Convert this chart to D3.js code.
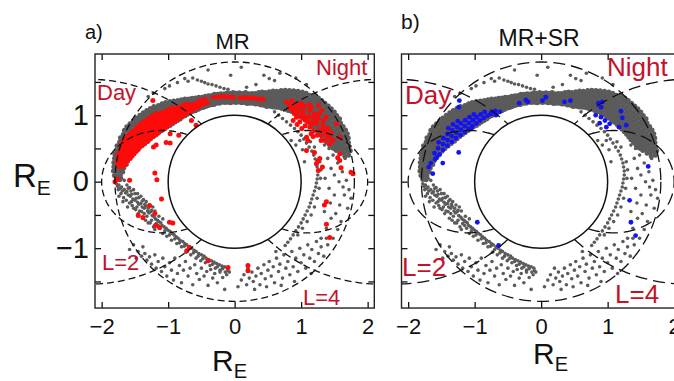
<!DOCTYPE html>
<html>
<head>
<meta charset="utf-8">
<script src="https://cdn.jsdelivr.net/npm/d3@7"></script>
<style>
  body { margin: 0; background: #fff; }
  svg { display: block; }
  text { font-family: "Liberation Sans", Arial, sans-serif; }
</style>
</head>
<body>
<svg id="chart" width="674" height="381"></svg>
<script>
// ---------------- data (distances in Earth radii) ----------------
const xTickValues = [-2, -1, 0, 1, 2];
const yTickValues = [-1.5, -1, -0.5, 0, 0.5, 1, 1.5];
const yTickLabels = [-1, 0, 1];
const lShellValues = [2, 4];          // dipole field lines drawn on both sides
const shellCircleRadius = 1.8;        // dashed reference circle
const earthRadius = 1;

// Dense part of the orbit coverage: [angle from +X in degrees, radial distances]
const grayBandRows = [
  [179,[1.73,1.78]],[177,[1.72,1.77,1.81]],[175,[1.69,1.74,1.79,1.83]],[173,[1.68,1.73,1.78,1.83]],
  [171,[1.65,1.70,1.75,1.80,1.84]],[169,[1.64,1.69,1.74,1.79,1.84]],[167,[1.61,1.66,1.71,1.76,1.81,1.85]],
  [165,[1.59,1.64,1.69,1.74,1.79,1.84]],[163,[1.56,1.61,1.66,1.71,1.76,1.81,1.85]],
  [161,[1.53,1.58,1.63,1.68,1.73,1.78,1.83]],[159,[1.50,1.55,1.60,1.65,1.70,1.75,1.80,1.84]],
  [157,[1.47,1.52,1.57,1.62,1.67,1.72,1.77,1.82]],[155,[1.44,1.49,1.54,1.59,1.64,1.69,1.74,1.79,1.83]],
  [153,[1.42,1.47,1.52,1.57,1.62,1.67,1.72,1.77,1.82]],[151,[1.40,1.45,1.50,1.55,1.60,1.65,1.70,1.75,1.80]],
  [149,[1.38,1.43,1.48,1.53,1.58,1.63,1.68,1.73,1.78]],[147,[1.36,1.41,1.46,1.51,1.56,1.61,1.66,1.71,1.76]],
  [145,[1.34,1.39,1.44,1.49,1.54,1.59,1.64,1.69,1.74]],[143,[1.32,1.37,1.42,1.47,1.52,1.57,1.62,1.67,1.72]],
  [141,[1.31,1.36,1.41,1.46,1.51,1.56,1.61,1.66,1.70]],[139,[1.29,1.34,1.39,1.44,1.49,1.54,1.59,1.64,1.68]],
  [137,[1.28,1.33,1.38,1.43,1.48,1.53,1.58,1.63,1.66]],[135,[1.27,1.32,1.37,1.42,1.47,1.52,1.57,1.62]],
  [133,[1.26,1.31,1.36,1.41,1.46,1.51,1.56,1.60]],[131,[1.25,1.30,1.35,1.40,1.45,1.50,1.55,1.58]],
  [129,[1.25,1.30,1.35,1.40,1.45,1.50,1.55]],[127,[1.24,1.29,1.34,1.39,1.44,1.49,1.52]],
  [125,[1.24,1.29,1.34,1.39,1.44,1.49]],[123,[1.23,1.28,1.33,1.38,1.43,1.47]],
  [121,[1.23,1.28,1.33,1.38,1.43,1.45]],[119,[1.22,1.27,1.32,1.37,1.42]],[117,[1.22,1.27,1.32,1.37,1.41]],
  [115,[1.22,1.27,1.32,1.37,1.39]],[113,[1.21,1.26,1.31,1.35,1.38]],[111,[1.21,1.26,1.31,1.36]],
  [109,[1.21,1.26,1.31,1.36]],[107,[1.21,1.26,1.31,1.35]],[105,[1.20,1.24,1.29,1.34]],
  [103,[1.21,1.26,1.31,1.35]],[101,[1.20,1.24,1.29,1.34]],[99,[1.21,1.26,1.31,1.34]],
  [97,[1.20,1.24,1.29,1.33]],[95,[1.20,1.25,1.30,1.34]],[93,[1.19,1.23,1.28,1.33]],
  [91,[1.20,1.25,1.30,1.34]],[89,[1.19,1.23,1.28,1.33]],[87,[1.20,1.25,1.30,1.34]],
  [85,[1.19,1.23,1.28,1.33]],[83,[1.20,1.25,1.30,1.35]],[81,[1.19,1.24,1.29,1.34]],
  [79,[1.20,1.25,1.30,1.35]],[77,[1.21,1.26,1.31,1.36]],[75,[1.21,1.26,1.31,1.36,1.39]],
  [73,[1.22,1.27,1.32,1.37,1.41]],[71,[1.22,1.27,1.32,1.37,1.42]],[69,[1.23,1.28,1.33,1.38,1.43,1.45]],
  [67,[1.23,1.28,1.33,1.38,1.43,1.48]],[65,[1.25,1.30,1.35,1.40,1.45,1.50]],
  [63,[1.26,1.31,1.36,1.41,1.46,1.51,1.54]],[61,[1.28,1.33,1.38,1.43,1.48,1.53,1.57]],
  [59,[1.30,1.35,1.40,1.45,1.50,1.55,1.60]],[57,[1.31,1.36,1.41,1.46,1.51,1.56,1.61,1.63]],
  [55,[1.33,1.38,1.43,1.48,1.53,1.58,1.63,1.66]],[53,[1.34,1.39,1.44,1.49,1.54,1.59,1.64,1.69]],
  [51,[1.36,1.41,1.46,1.51,1.56,1.61,1.66,1.71]],[49,[1.37,1.42,1.47,1.52,1.57,1.62,1.67,1.72]],
  [47,[1.38,1.43,1.48,1.53,1.58,1.63,1.68,1.73,1.76]],[45,[1.39,1.44,1.49,1.54,1.59,1.64,1.69,1.74,1.78]],
  [43,[1.40,1.45,1.50,1.55,1.60,1.65,1.70,1.75,1.79]],[41,[1.41,1.46,1.51,1.56,1.61,1.66,1.71,1.76,1.80]],
  [39,[1.42,1.47,1.52,1.57,1.62,1.67,1.72,1.77,1.81]],[37,[1.43,1.48,1.53,1.58,1.63,1.68,1.73,1.78,1.82]],
  [35,[1.44,1.49,1.54,1.59,1.64,1.69,1.74,1.79,1.83]],[33,[1.45,1.50,1.55,1.60,1.65,1.70,1.75,1.80,1.83]],
  [31,[1.46,1.51,1.56,1.61,1.66,1.71,1.76,1.81,1.84]],[29,[1.47,1.52,1.57,1.62,1.67,1.72,1.77,1.82]],
  [27,[1.48,1.53,1.58,1.63,1.68,1.73,1.78,1.83]],[25,[1.49,1.54,1.59,1.64,1.69,1.74,1.79,1.84]],
  [23,[1.51,1.56,1.61,1.66,1.71,1.76,1.81,1.84]],[21,[1.53,1.58,1.63,1.68,1.73,1.78,1.83]],
  [19,[1.56,1.61,1.66,1.71,1.76,1.81]],[17,[1.60,1.65,1.70,1.75,1.80]],[15,[1.65,1.70,1.75,1.80]],
  [13,[1.70,1.76]]
];

// Sparse coverage, [X, Y]
const graySparse = [
  [-1.30,1.28],[-1.22,1.33],[-1.05,1.40],[-0.98,1.44],[-0.86,1.49],[-0.75,1.55],[-0.70,1.51],[-0.63,1.56],
  [-0.56,1.53],[-0.50,1.51],[-0.45,1.49],[-0.40,1.47],[-0.34,1.46],[-0.28,1.44],[-0.22,1.42],[-0.16,1.40],
  [-0.10,1.39],[-0.06,1.60],[0.18,1.42],[0.32,1.46],[0.44,1.60],[0.52,1.55],[0.60,1.52],[0.68,1.63],
  [0.92,1.56],[1.08,1.46],[-0.40,1.68],[0.10,1.72],
  [-1.78,-0.03],[-1.76,-0.07],[-1.74,-0.05],[-1.72,-0.10],[-1.70,-0.08],[-1.69,-0.14],[-1.66,-0.12],
  [-1.64,-0.17],[-1.62,-0.15],[-1.60,-0.20],[-1.57,-0.22],[-1.55,-0.19],[-1.53,-0.26],[-1.50,-0.28],
  [-1.48,-0.25],[-1.46,-0.31],[-1.44,-0.34],[-1.41,-0.33],[-1.39,-0.38],[-1.36,-0.40],[-1.34,-0.37],
  [-1.31,-0.44],[-1.29,-0.47],[-1.26,-0.45],[-1.24,-0.51],[-1.21,-0.53],[-1.19,-0.56],[-1.16,-0.58],
  [-1.14,-0.60],[-1.11,-0.62],[-1.09,-0.66],[-1.06,-0.68],[-1.03,-0.70],[-1.00,-0.73],[-0.97,-0.75],
  [-0.94,-0.78],[-0.91,-0.80],[-0.88,-0.83],[-0.85,-0.85],[-0.82,-0.88],[-0.78,-0.90],[-0.75,-0.93],
  [-0.72,-0.95],[-0.68,-0.98],[-0.65,-1.00],[-0.61,-1.03],[-0.58,-1.05],[-0.54,-1.08],[-0.50,-1.10],
  [-0.46,-1.12],[-0.43,-1.15],[-0.39,-1.17],[-0.35,-1.19],[-0.31,-1.21],[-0.27,-1.23],[-0.23,-1.25],
  [-0.19,-1.27],[-0.15,-1.28],[-0.11,-1.30],
  [-1.55,-0.30],[-1.47,-0.38],[-1.40,-0.45],[-1.32,-0.52],[-1.25,-0.58],[-1.18,-0.63],[-1.12,-0.70],
  [-1.05,-0.74],[-0.98,-0.80],[-0.90,-0.86],[-0.83,-0.92],[-0.76,-0.97],[-0.70,-1.02],[-0.62,-1.07],
  [-0.55,-1.12],[-0.48,-1.16],[-0.40,-1.20],[-0.33,-1.24],[-0.26,-1.28],[-0.18,-1.31],[-0.10,-1.34],
  [-1.62,-0.05],[-1.58,-0.09],[-1.52,-0.12],[-1.46,-0.18],[-1.41,-0.22],[-1.37,-0.27],[-1.33,-0.30],
  [-1.28,-0.35],[-1.23,-0.38],[-1.52,-0.40],[-1.45,-0.48],[-1.38,-0.55],[-1.30,-0.62],[-1.22,-0.68],
  [-1.74,-0.22],[-1.68,-0.30],[-1.61,-0.38],[-1.70,0.05],[-1.66,0.02],
  [-1.75,-0.12],[-1.71,-0.18],[-1.67,-0.24],[-1.63,-0.28],[-1.58,-0.32],[-1.54,-0.36],[-1.49,-0.42],
  [-1.43,-0.44],[-1.36,-0.48],[-1.34,-0.58],[-1.27,-0.62],[-1.20,-0.72],[-1.15,-0.66],[-1.08,-0.78],
  [-1.02,-0.82],[-0.95,-0.88],[-0.87,-0.93],[-0.80,-0.98],[-0.73,-1.06],[-0.66,-1.10],[-0.58,-1.15],
  [-0.51,-1.19],[-0.44,-1.22],[-0.37,-1.26],[-0.29,-1.30],[-0.22,-1.33],[-0.14,-1.36],[-1.60,-0.10],
  [-1.56,-0.14],[-1.50,-0.18],[-1.44,-0.24],[-1.39,-0.29],[-1.35,-0.34],[-1.30,-0.40],[-1.25,-0.43],
  [-1.20,-0.44],[-1.14,-0.52],[-1.08,-0.56],
  [-1.45,-1.05],[-1.40,-1.12],[-1.35,-1.08],[-1.32,-1.18],[-1.28,-1.13],[-1.25,-1.24],[-1.20,-1.10],
  [-1.18,-1.30],[-1.15,-1.20],[-1.10,-1.35],[-1.08,-1.15],[-1.05,-1.28],[-1.02,-1.42],[-0.98,-1.22],
  [-0.95,-1.33],[-0.92,-1.48],[-0.90,-1.15],[-0.86,-1.38],[-0.83,-1.26],[-0.80,-1.52],[-0.77,-1.33],
  [-0.74,-1.20],[-0.70,-1.42],[-0.67,-1.30],[-0.63,-1.55],[-0.60,-1.25],[-0.57,-1.38],[-0.53,-1.47],
  [-0.50,-1.30],[-0.46,-1.42],[-0.42,-1.35],[-0.40,-1.56],[-0.36,-1.32],[-0.33,-1.45],[-0.30,-1.38],
  [-0.26,-1.52],[-0.22,-1.36],[-0.18,-1.44],[-0.15,-1.62],[-0.12,-1.40],[-0.08,-1.36],[-1.52,-0.95],
  [-1.48,-1.15],[-1.58,-1.02],[-1.38,-0.98],
  [0.10,-1.48],[0.14,-1.40],[0.18,-1.55],[0.22,-1.45],[0.26,-1.36],[0.28,-1.50],[0.32,-1.42],[0.35,-1.30],
  [0.38,-1.55],[0.40,-1.38],[0.44,-1.25],[0.46,-1.46],[0.50,-1.33],[0.52,-1.20],[0.55,-1.42],[0.58,-1.28],
  [0.60,-1.52],[0.63,-1.15],[0.66,-1.35],[0.68,-1.24],[0.72,-1.45],[0.74,-1.10],[0.77,-1.30],[0.80,-1.20],
  [0.83,-1.40],[0.86,-1.05],[0.88,-1.28],[0.92,-1.15],[0.95,-1.35],[0.98,-1.00],[1.00,-1.22],[1.04,-1.10],
  [1.07,-1.30],[1.10,-0.95],[1.13,-1.15],[1.16,-1.02],[1.20,-1.20],[1.23,-0.90],[1.26,-1.08],[1.30,-0.98],
  [1.34,-1.12],[1.38,-0.85],[0.20,-1.30],[0.05,-1.58],[0.30,-1.62],[0.48,-1.58],[0.70,-1.56],[0.90,-1.50],
  [1.15,-1.38],[0.62,-1.05],
  [0.60,1.05],[0.66,1.00],[0.72,0.95],[0.78,0.90],[0.84,0.85],[0.90,0.80],[0.95,0.75],[1.00,0.70],
  [1.04,0.64],[1.08,0.58],[1.12,0.52],[1.16,0.46],[1.19,0.40],[1.21,0.34],[1.23,0.28],[1.24,0.22],
  [1.25,0.16],[1.25,0.10],[1.24,0.04],[1.23,-0.02],[1.22,-0.08],[1.20,-0.14],[1.18,-0.20],[1.16,-0.26],
  [1.14,-0.32],[1.12,-0.38],[1.09,-0.44],[1.06,-0.50],[1.03,-0.56],[1.00,-0.62],[0.96,-0.68],[0.92,-0.74],
  [0.88,-0.80],[0.84,-0.86],[0.80,-0.91],[0.76,-0.96],
  [1.28,0.30],[1.30,0.18],[1.29,0.05],[1.27,-0.10],[1.24,-0.25],[1.20,-0.38],[1.15,-0.50],[1.09,-0.60],
  [1.02,-0.70],[0.95,-0.80],[1.14,0.60],[1.20,0.52],[0.98,0.62],
  [1.40,0.35],[1.45,0.20],[1.50,0.10],[1.55,0.28],[1.62,0.15],[1.68,0.02],[1.72,-0.12],[1.65,-0.20],
  [1.58,-0.35],[1.52,-0.48],[1.45,-0.55],[1.60,-0.60],[1.55,-0.72],[1.48,-0.85],[1.40,-0.95],[1.35,-0.45],
  [1.42,-0.10],[1.36,0.05],[1.70,-0.40],[1.75,-0.25],[1.63,-0.08],[1.50,-0.20],[1.38,-0.70],[1.30,-0.85],
  [1.57,0.00],[1.48,0.40],[1.66,0.35],[1.44,-0.32],
  [0.85,0.62],[0.92,0.55],[1.02,0.48],[0.88,0.42],[1.05,0.30],[0.95,0.20],[1.35,0.55],[1.42,0.50],[1.50,0.48]
];

// MR events (panel a)
const redBandRows = [
  [172,[1.69,1.76]],[170.5,[1.66,1.73,1.79]],[169,[1.64,1.71,1.78]],[167.5,[1.61,1.68,1.75,1.80]],
  [166,[1.59,1.66,1.73,1.79]],[164.5,[1.57,1.64,1.71,1.78]],[163,[1.55,1.62,1.69,1.76]],
  [161.5,[1.53,1.60,1.67,1.74,1.79]],[160,[1.52,1.59,1.66,1.73,1.78]],[158.5,[1.49,1.56,1.63,1.70,1.76]],
  [157,[1.47,1.54,1.61,1.68,1.75]],[155.5,[1.45,1.52,1.59,1.66,1.73]],[154,[1.44,1.51,1.58,1.65,1.71]],
  [152.5,[1.42,1.49,1.56,1.63,1.69]],[151,[1.40,1.47,1.54,1.61,1.68]],[149.5,[1.38,1.45,1.52,1.59,1.66]],
  [148,[1.37,1.44,1.51,1.58,1.65]],[146.5,[1.36,1.43,1.50,1.57,1.63]],[145,[1.35,1.42,1.49,1.56,1.62]],
  [143.5,[1.33,1.40,1.47,1.54,1.60]],[142,[1.32,1.39,1.46,1.53,1.59]],[140.5,[1.31,1.38,1.45,1.52,1.57]],
  [139,[1.31,1.38,1.45,1.52,1.56]],[137.5,[1.30,1.37,1.44,1.51]],[136,[1.29,1.36,1.43,1.50]],
  [134.5,[1.28,1.35,1.42,1.48]],[133,[1.28,1.35,1.42,1.47]],[131.5,[1.27,1.34,1.41,1.46]],
  [130,[1.27,1.34,1.41,1.45]],[128.5,[1.26,1.33,1.40]],[127,[1.26,1.33,1.40]],[125.5,[1.26,1.32,1.38]],
  [124,[1.26,1.32,1.38]],[122.5,[1.25,1.31,1.37]],[121,[1.25,1.31,1.36]],[119.5,[1.26,1.32]],
  [118,[1.26,1.32]],[116.5,[1.25,1.31]],[115,[1.25,1.31]],[113,[1.27]],[111,[1.26]],[109,[1.26]]
];
const redSparse = [
  [-0.32,1.27],[-0.26,1.27],[-0.20,1.28],[-0.14,1.28],[-0.08,1.27],[-0.02,1.27],[0.08,1.26],[0.14,1.27],
  [0.20,1.26],[0.26,1.26],[0.32,1.25],[0.38,1.24],[0.43,1.24],[-0.45,1.24],[-0.52,1.22],
  [0.78,1.20],[0.83,1.15],[0.93,1.17],[0.98,1.12],[0.88,1.07],[1.03,1.05],[1.13,1.07],[1.08,0.97],
  [0.93,0.97],[0.98,0.90],[1.18,0.97],[1.23,0.87],[1.13,0.82],[1.28,0.78],[1.38,0.72],[1.43,0.67],
  [1.36,0.62],[1.43,0.57],[1.31,1.07],[1.38,0.97],[1.26,1.15],[0.88,0.92],[1.01,0.80],[1.08,0.67],
  [1.53,0.87],[1.58,0.67],[0.86,1.22],[0.95,1.05],[1.05,1.13],[1.10,0.90],[1.18,0.76],[1.25,0.95],
  [1.33,0.85],[1.20,1.02],[1.00,0.98],[0.90,1.12],[1.15,1.12],[1.30,0.70],[1.40,0.80],[1.48,0.62],
  [0.84,1.10],[0.90,1.02],[0.96,1.15],[1.02,1.00],[1.06,0.93],[1.12,0.98],[1.16,0.88],[1.22,0.92],
  [1.27,1.02],[1.33,0.92],[1.35,0.78],[1.24,0.70],[1.30,0.62],[1.40,0.68],[1.45,0.74],[1.12,1.16],
  [1.00,1.18],[0.94,0.86],[1.06,0.84],[1.15,0.72],
  [1.10,0.62],[1.08,0.47],[1.18,0.68],[1.20,0.44],[1.25,0.31],[1.32,0.22],[1.23,0.27],[1.28,0.35],
  [1.26,0.17],[1.55,0.36],[1.58,0.42],[1.58,0.32],[1.60,0.21],[1.75,0.14],[1.78,0.12],[1.38,-0.30],
  [1.35,-0.35],[1.38,-0.64],[1.43,-0.84],
  [-1.23,1.22],[-0.97,0.72],[-0.97,0.58],[-0.84,0.70],[-1.18,0.55],[-1.03,0.59],[-1.20,0.13],[-1.17,0.03],
  [-1.80,0.00],[-1.76,0.04],[-1.58,0.02],[-1.73,0.23],[-1.22,0.52],[-1.10,-0.26],[-1.28,-0.36],
  [-1.38,-0.54],[-1.45,-0.51],[-1.20,-0.48],[-1.13,-0.69],[-1.19,-0.66],[-0.98,-0.61],[-0.93,-0.62],
  [-0.72,-1.04],[-0.68,-0.99],[-0.40,-1.19],[-0.10,-1.29],[0.20,-1.26],[0.20,-1.34],[-0.65,0.92],[-0.58,0.85]
];

// MR+SR events (panel b)
const blueBandRows = [
  [168,[1.63]],[165,[1.58,1.66]],[162,[1.55,1.63]],[159,[1.51,1.58,1.65]],[156,[1.47,1.54,1.61]],
  [153,[1.44,1.51,1.58]],[150,[1.40,1.47,1.54,1.61]],[147,[1.37,1.44,1.51,1.58]],[144,[1.35,1.42,1.49,1.55]],
  [141,[1.33,1.40,1.47]],[138,[1.31,1.38,1.45]],[135,[1.30,1.37,1.43]],[132,[1.29,1.36]],[129,[1.28,1.35]],
  [126,[1.28]],[123,[1.27]]
];
const blueSparse = [
  [-1.23,1.22],[-1.24,1.12],[-1.24,0.44],[-1.57,0.37],[-1.69,0.22],[-1.63,0.12],[-1.66,0.28],[-0.96,-0.61],
  [-0.64,-0.96],[-0.33,1.18],[-0.23,1.23],[-0.20,1.20],[0.02,1.22],[0.07,1.27],[0.35,1.20],[0.44,1.22],
  [0.86,1.18],[0.90,1.12],[0.92,1.20],[0.82,1.00],[0.90,0.97],[0.88,0.88],[0.96,0.92],[0.98,0.82],
  [1.03,0.87],[1.17,0.82],[1.20,1.06],[1.22,0.96],[1.28,0.85],[1.61,0.23],[1.33,-0.28],[1.35,-0.61],
  [1.42,-0.81],[-0.62,1.05],[-0.68,1.00],[-0.75,1.02],[-1.05,0.80],[-1.48,0.28]
];

// ---------------- drawing ----------------
const deg = Math.PI / 180;
const polarRowsToXY = rows => rows.flatMap(([a, radii]) =>
  radii.map(r => [r * Math.cos(a * deg), r * Math.sin(a * deg)]));

// Dipole field line r = L cos^2(lat), from surface to surface, on one side
function dipoleLine(L, side) {
  const latMax = Math.acos(Math.sqrt(1 / L));
  const pts = [];
  for (let i = 0; i <= 240; i++) {
    const lat = -latMax + (2 * latMax * i) / 240;
    const r = L * Math.cos(lat) ** 2;
    pts.push([side * r * Math.cos(lat), r * Math.sin(lat)]);
  }
  return pts;
}

const svg = d3.select('#chart');
const pxPerRe = 66.5;
const xDomain = [-2.1, 2.1];
const yDomain = [-1.9, 1.92];
const grayDense = polarRowsToXY(grayBandRows);

const panels = [
  {
    key: 'a', left: 95, top: 54, title: 'MR', titleSize: 22, titleY: 49,
    tag: 'a)', tagX: 85, tagY: 39, tagSize: 20,
    events: polarRowsToXY(redBandRows).concat(redSparse), eventColor: '#ff0a0a', eventR: 2.5,
    dash: '7,4', labelSize: 22, yLabels: true,
    labels: { day: [97, 100], night: [316, 75], l2: [102, 270], l4: [303, 305] },
    xTitle: [212, 371]
  },
  {
    key: 'b', left: 401.5, top: 54, title: 'MR+SR', titleSize: 23, titleY: 46,
    tag: 'b)', tagX: 401, tagY: 29, tagSize: 21,
    events: polarRowsToXY(blueBandRows).concat(blueSparse), eventColor: '#1212f2', eventR: 2.4,
    dash: '12,6', labelSize: 26, yLabels: false,
    labels: { day: [405, 104], night: [607, 76], l2: [402, 276], l4: [615, 303] },
    xTitle: [533, 364]
  }
];

const labelRed = '#c4122b';
const grayColor = '#5b5b5b';

panels.forEach(p => {
  const w = (xDomain[1] - xDomain[0]) * pxPerRe;
  const h = (yDomain[1] - yDomain[0]) * pxPerRe;
  const x = d3.scaleLinear().domain(xDomain).range([p.left, p.left + w]);
  const y = d3.scaleLinear().domain(yDomain).range([p.top + h, p.top]);
  const g = svg.append('g');

  svg.append('clipPath').attr('id', 'clip-' + p.key)
    .append('rect').attr('x', p.left).attr('y', p.top).attr('width', w).attr('height', h);
  const plot = g.append('g').attr('clip-path', `url(#clip-${p.key})`);

  // orbit coverage: the dense band rows stand for many overlapping samples
  plot.append('g').selectAll('circle').data(grayDense).join('circle')
    .attr('cx', d => x(d[0])).attr('cy', d => y(d[1])).attr('r', 2.5).attr('fill', grayColor);
  plot.append('g').selectAll('circle').data(graySparse).join('circle')
    .attr('cx', d => x(d[0])).attr('cy', d => y(d[1])).attr('r', 1.8).attr('fill', grayColor);
  // events
  plot.append('g').selectAll('circle').data(p.events).join('circle')
    .attr('cx', d => x(d[0])).attr('cy', d => y(d[1])).attr('r', p.eventR).attr('fill', p.eventColor);

  // Earth
  plot.append('circle').attr('cx', x(0)).attr('cy', y(0)).attr('r', x(earthRadius) - x(0))
    .attr('fill', '#fff').attr('stroke', '#111').attr('stroke-width', 1.5);
  // dashed reference circle
  plot.append('circle').attr('cx', x(0)).attr('cy', y(0)).attr('r', x(shellCircleRadius) - x(0))
    .attr('fill', 'none').attr('stroke', '#111').attr('stroke-width', 1.3)
    .attr('stroke-dasharray', p.dash);
  // dipole field lines
  const line = d3.line().x(d => x(d[0])).y(d => y(d[1]));
  lShellValues.forEach(L => {
    [-1, 1].forEach(side => {
      plot.append('path').attr('d', line(dipoleLine(L, side)))
        .attr('fill', 'none').attr('stroke', '#111').attr('stroke-width', 1.3)
        .attr('stroke-dasharray', p.dash);
    });
  });

  // axes with inward ticks on all sides
  const fmt = d3.format('d');
  const axB = g.append('g').attr('transform', `translate(0,${p.top + h})`)
    .call(d3.axisBottom(x).tickValues(xTickValues).tickSizeInner(-6).tickSizeOuter(0).tickPadding(10).tickFormat(fmt));
  const axT = g.append('g').attr('transform', `translate(0,${p.top})`)
    .call(d3.axisTop(x).tickValues(xTickValues).tickSizeInner(-6).tickSizeOuter(0).tickFormat(''));
  const axL = g.append('g').attr('transform', `translate(${p.left},0)`)
    .call(d3.axisLeft(y).tickValues(yTickValues).tickSizeInner(-6).tickSizeOuter(0).tickPadding(6)
      .tickFormat(d => (p.yLabels && yTickLabels.includes(d)) ? fmt(d) : ''));
  const axR = g.append('g').attr('transform', `translate(${p.left + w},0)`)
    .call(d3.axisRight(y).tickValues(yTickValues).tickSizeInner(-6).tickSizeOuter(0).tickFormat(''));
  [axB, axT, axL, axR].forEach(a => {
    a.select('.domain').remove();
    a.selectAll('line').attr('stroke', '#111').attr('stroke-width', 1.3);
    a.selectAll('text').attr('fill', '#111').style('font-family', '"Liberation Sans", Arial, sans-serif');
  });
  axB.selectAll('text').style('font-size', '22px');
  axL.selectAll('text').style('font-size', '29px');

  // frame
  g.append('rect').attr('x', p.left).attr('y', p.top).attr('width', w).attr('height', h)
    .attr('fill', 'none').attr('stroke', '#222').attr('stroke-width', 1.4);

  // titles and labels
  g.append('text').attr('x', p.tagX).attr('y', p.tagY).attr('font-size', p.tagSize).attr('fill', '#111').text(p.tag);
  g.append('text').attr('x', x(0) - 2).attr('y', p.titleY).attr('font-size', p.titleSize)
    .attr('text-anchor', 'middle').attr('fill', '#111').text(p.title);
  const lbl = (pos, txt) => g.append('text').attr('x', pos[0]).attr('y', pos[1])
    .attr('font-size', p.labelSize).attr('fill', labelRed).text(txt);
  lbl(p.labels.day, 'Day');
  lbl(p.labels.night, 'Night');
  lbl(p.labels.l2, 'L=2');
  lbl(p.labels.l4, 'L=4');

  // x axis title
  const xt = g.append('text').attr('x', p.xTitle[0]).attr('y', p.xTitle[1]).attr('fill', '#111');
  xt.append('tspan').attr('font-size', 30).text('R');
  xt.append('tspan').attr('font-size', 20).attr('dy', 7).text('E');
});

// y axis title
const yt = svg.append('text').attr('x', 13).attr('y', 187).attr('fill', '#111');
yt.append('tspan').attr('font-size', 33).text('R');
yt.append('tspan').attr('font-size', 21).attr('dy', 8).text('E');
</script>
</body>
</html>
